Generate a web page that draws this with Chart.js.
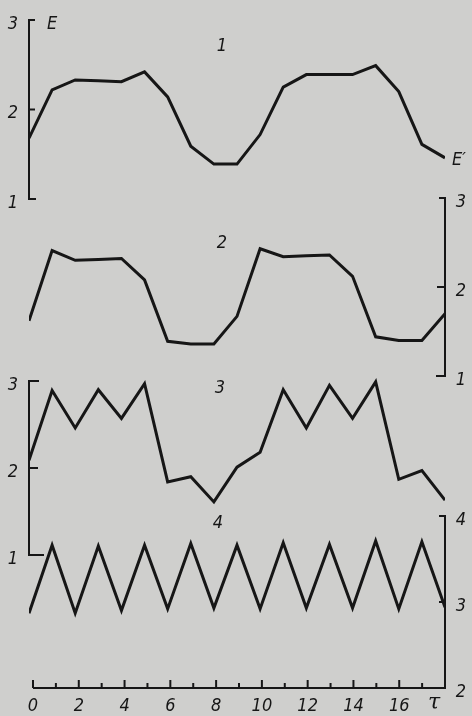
<!DOCTYPE html>
<html>
<head>
<meta charset="utf-8">
<script src="https://cdn.jsdelivr.net/npm/chart.js@4.4.1/dist/chart.umd.min.js"></script>
<style>
  html, body { margin: 0; padding: 0; background: #cfcfcd; }
  #wrap { width: 472px; height: 716px; }
</style>
</head>
<body>
<div id="wrap"><canvas id="c" width="472" height="716"></canvas></div>
<script>
// ---- data ----
const TAU = [0, 1, 2, 3, 4, 5, 6, 7, 8, 9, 10, 11, 12, 13, 14, 15, 16, 17, 18];
const SERIES_1 = [1.68, 2.22, 2.33, 2.32, 2.31, 2.42, 2.14, 1.59, 1.39, 1.39, 1.72, 2.25, 2.39, 2.39, 2.39, 2.49, 2.20, 1.61, 1.46];
const SERIES_2 = [1.62, 2.41, 2.30, 2.31, 2.32, 2.08, 1.39, 1.36, 1.36, 1.67, 2.43, 2.34, 2.35, 2.36, 2.12, 1.44, 1.40, 1.40, 1.70];
const SERIES_3 = [2.09, 2.89, 2.46, 2.90, 2.57, 2.97, 1.84, 1.90, 1.61, 2.01, 2.18, 2.90, 2.46, 2.95, 2.57, 2.99, 1.87, 1.97, 1.63];
const SERIES_4 = [2.87, 3.66, 2.87, 3.65, 2.90, 3.66, 2.92, 3.68, 2.93, 3.66, 2.92, 3.69, 2.93, 3.67, 2.93, 3.71, 2.92, 3.70, 2.94];
const Y1_TICKS = [1, 2, 3];
const Y2_TICKS = [1, 2, 3];
const Y3_TICKS = [1, 2, 3];
const Y4_TICKS = [2, 3, 4];
const X_MAJOR_TICKS = [0, 2, 4, 6, 8, 10, 12, 14, 16];
const X_MINOR_TICKS = [1, 3, 5, 7, 9, 11, 13, 15, 17];
const SERIES_NAMES = ['1', '2', '3', '4'];

// ---- layout (pixels) ----
const AREA = { left: 29, top: 20, right: 445, bottom: 688 };
const PANES = [
  { id: 'y1', ticks: Y1_TICKS, pxHi: 20,  pxLo: 199, side: 'left'  },
  { id: 'y2', ticks: Y2_TICKS, pxHi: 198, pxLo: 376, side: 'right' },
  { id: 'y3', ticks: Y3_TICKS, pxHi: 381, pxLo: 555, side: 'left'  },
  { id: 'y4', ticks: Y4_TICKS, pxHi: 516, pxLo: 688, side: 'right' }
];
function paneRange(p) {
  const lo = p.ticks[0], hi = p.ticks[p.ticks.length - 1];
  const s = (p.pxLo - p.pxHi) / (hi - lo);
  return { min: lo - (AREA.bottom - p.pxLo) / s, max: hi + (p.pxHi - AREA.top) / s };
}

const INK = '#161616';
const FONT = 'italic 18px "Liberation Sans Narrow", "DejaVu Sans Condensed", sans-serif';
const TAU_FONT = 'italic 22px "DejaVu Serif", "Liberation Serif", serif';

const scales = {
  x:  { type: 'linear', min: 0, max: 18, display: false },
  xa: { type: 'linear', min: -0.175, max: 18, display: false }
};
PANES.forEach(p => {
  const r = paneRange(p);
  scales[p.id] = { type: 'linear', min: r.min, max: r.max, display: false };
});

const allSeries = [SERIES_1, SERIES_2, SERIES_3, SERIES_4];
const datasets = allSeries.map((s, k) => ({
  label: SERIES_NAMES[k],
  data: TAU.map((t, i) => ({ x: t, y: s[i] })),
  yAxisID: PANES[k].id,
  xAxisID: 'x',
  borderColor: INK,
  borderWidth: 3,
  borderJoinStyle: 'miter',
  borderCapStyle: 'butt',
  pointRadius: 0,
  tension: 0,
  fill: false
}));

const bgPlugin = {
  id: 'bg',
  beforeDraw(chart) {
    const c = chart.ctx;
    c.save();
    c.fillStyle = '#cfcfcd';
    c.fillRect(0, 0, chart.width, chart.height);
    c.restore();
  }
};

const axesPlugin = {
  id: 'paneAxes',
  afterDatasetsDraw(chart) {
    const c = chart.ctx;
    const ca = chart.chartArea;
    c.save();
    c.strokeStyle = INK;
    c.fillStyle = INK;
    c.lineWidth = 2;
    c.font = FONT;
    c.textBaseline = 'middle';

    const tickLens = { y1: [7, 6, 6], y2: [9, 8, 6], y3: [15, 9, 10], y4: [4, 6, 6] };
    PANES.forEach(p => {
      const sc = chart.scales[p.id];
      const xAxis = p.side === 'left' ? ca.left : ca.right;
      const dir = p.side === 'left' ? 1 : -1;
      const yTop = sc.getPixelForValue(p.ticks[p.ticks.length - 1]);
      const yBot = sc.getPixelForValue(p.ticks[0]);
      c.beginPath();
      c.moveTo(xAxis, yTop - 1);
      c.lineTo(xAxis, yBot + 1);
      c.stroke();
      p.ticks.forEach((v, i) => {
        const y = sc.getPixelForValue(v);
        c.beginPath();
        c.moveTo(xAxis, y);
        c.lineTo(xAxis + dir * tickLens[p.id][i], y);
        c.stroke();
        c.textAlign = 'center';
        const lx = p.side === 'left' ? 13 : 461;
        c.fillText(String(v), lx, y + 4);
      });
    });

    // bottom axis
    const xa = chart.scales.xa;
    const yb = ca.bottom;
    c.beginPath();
    c.moveTo(xa.getPixelForValue(0), yb);
    c.lineTo(ca.right + 1, yb);
    c.stroke();
    c.textAlign = 'center';
    X_MAJOR_TICKS.forEach(v => {
      const x = xa.getPixelForValue(v);
      c.beginPath(); c.moveTo(x, yb); c.lineTo(x, yb - 8); c.stroke();
      c.fillText(String(v), x, yb + 18);
    });
    X_MINOR_TICKS.forEach(v => {
      const x = xa.getPixelForValue(v);
      c.beginPath(); c.moveTo(x, yb); c.lineTo(x, yb - 5); c.stroke();
    });
    c.font = TAU_FONT;
    c.fillText('\u03C4', 434, yb + 15);
    c.font = FONT;

    // axis names and curve numbers
    c.fillText('E', 52, 24);
    c.fillText('E\u2032', 459, 160);
    c.fillText(SERIES_NAMES[0], 222, 46);
    c.fillText(SERIES_NAMES[1], 222, 243);
    c.fillText(SERIES_NAMES[2], 220, 388);
    c.fillText(SERIES_NAMES[3], 218, 523);
    c.restore();
  }
};

new Chart(document.getElementById('c'), {
  type: 'line',
  data: { datasets },
  options: {
    responsive: false,
    animation: false,
    devicePixelRatio: 1,
    layout: { padding: { left: AREA.left, top: AREA.top, right: 472 - AREA.right, bottom: 716 - AREA.bottom } },
    scales,
    plugins: { legend: { display: false }, tooltip: { enabled: false } }
  },
  plugins: [bgPlugin, axesPlugin]
});
</script>
</body>
</html>
